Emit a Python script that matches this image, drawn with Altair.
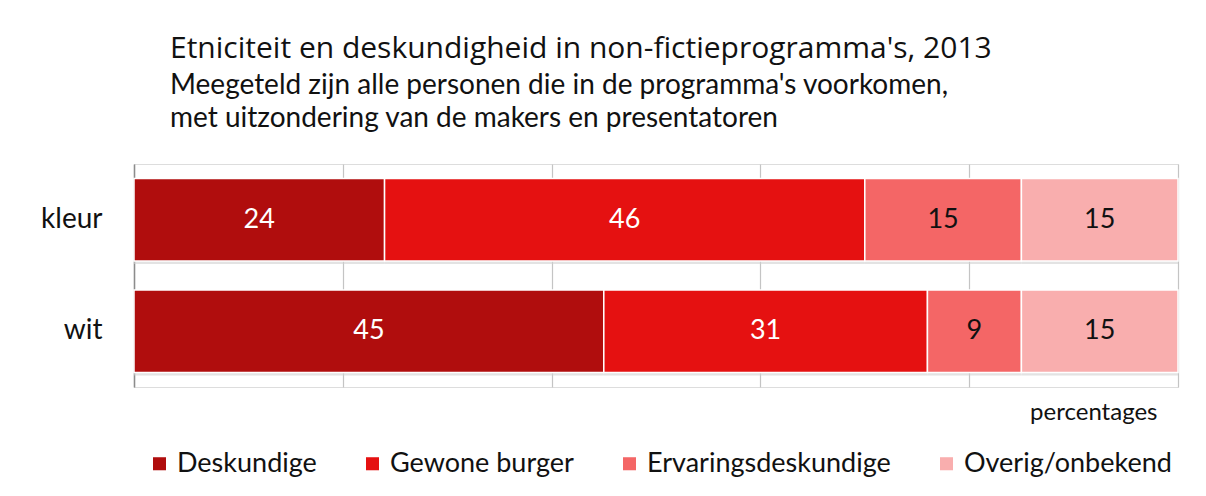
import altair as alt
import pandas as pd

groups = ["kleur", "wit"]
categories = ["Deskundige", "Gewone burger", "Ervaringsdeskundige", "Overig/onbekend"]
kleur_values = [24, 46, 15, 15]
wit_values = [45, 31, 9, 15]
colors = ["#B00D0D", "#E51111", "#F46666", "#F9AEAE"]
x_ticks = [0, 20, 40, 60, 80, 100]

rows = []
for g, vals in zip(groups, [kleur_values, wit_values]):
    for i, (c, v) in enumerate(zip(categories, vals)):
        rows.append({"groep": g, "categorie": c, "waarde": v, "idx": i})
df = pd.DataFrame(rows)

FONT = "Lato"

base = alt.Chart(df).transform_stack(
    stack="waarde",
    groupby=["groep"],
    as_=["x0", "x1"],
    sort=[alt.SortField("idx", order="ascending")],
).transform_calculate(mid="(datum.x0 + datum.x1) / 2")

yenc = alt.Y(
    "groep:N",
    sort=groups,
    title=None,
    scale=alt.Scale(paddingInner=0.26, paddingOuter=0.13),
    axis=alt.Axis(
        labelFontSize=28, labelColor="#111111", labelFont=FONT, labelPadding=32,
        ticks=False, domain=True, domainColor="#8c8c8c", domainWidth=1.5, grid=False,
    ),
)

xscale = alt.Scale(domain=[0, 100], nice=False)

shadow = base.mark_bar(color="#d0d0d0", opacity=0.6, yOffset=3).encode(
    x=alt.X("x0:Q", scale=xscale),
    x2="x1:Q",
    y=yenc,
)

bars = base.mark_bar(stroke="white", strokeWidth=1.5).encode(
    x=alt.X(
        "x0:Q",
        scale=xscale,
        title="percentages",
        axis=alt.Axis(
            values=x_ticks, labels=False, ticks=False, domain=False,
            grid=True, gridColor="#c4c4c4", gridWidth=1.2,
            titleFontSize=24, titleFont=FONT, titleFontWeight="normal", titleColor="#111111",
            titleAlign="right", titleX=1023, titleY=32, titleBaseline="alphabetic",
            titleAnchor="start",
        ),
    ),
    x2="x1:Q",
    y=yenc,
    color=alt.Color(
        "categorie:N",
        sort=categories,
        scale=alt.Scale(domain=categories, range=colors),
        legend=alt.Legend(
            title=None, orient="none", direction="horizontal", columns=4,
            legendX=12, legendY=286, padding=0,
            symbolType="square", symbolSize=170, symbolStrokeWidth=0, symbolOpacity=1,
            labelFontSize=27, labelFont=FONT, labelColor="#111111",
            labelOffset=4, columnPadding=42, labelLimit=400,
        ),
    ),
)

labels = base.mark_text(fontSize=27, font=FONT, baseline="middle", align="center").encode(
    x=alt.X("mid:Q", scale=xscale),
    y=alt.Y("groep:N", sort=groups),
    text="waarde:Q",
    color=alt.condition("datum.idx < 2", alt.value("white"), alt.value("#111111")),
)

chart = alt.layer(shadow, bars, labels).properties(
    width=1044,
    height=223,
    autosize=alt.AutoSizeParams(type="none"),
    padding={"left": 126, "top": 156, "right": 20, "bottom": 95},
    title=alt.TitleParams(
        text="Etniciteit en deskundigheid in non-fictieprogramma's, 2013",
        subtitle=[
            "Meegeteld zijn alle personen die in de programma's voorkomen,",
            "met uitzondering van de makers en presentatoren",
        ],
        anchor="start", frame="group", dx=36, offset=31,
        font="Open Sans", fontSize=30, fontWeight="normal", color="#111111",
        subtitleFont=FONT, subtitleFontSize=28, subtitleColor="#111111",
        subtitleLineHeight=33, subtitlePadding=8,
    ),
).configure_view(stroke=None).configure(background="white")

chart.save("out.html", embed_options={"renderer": "svg", "actions": False})
